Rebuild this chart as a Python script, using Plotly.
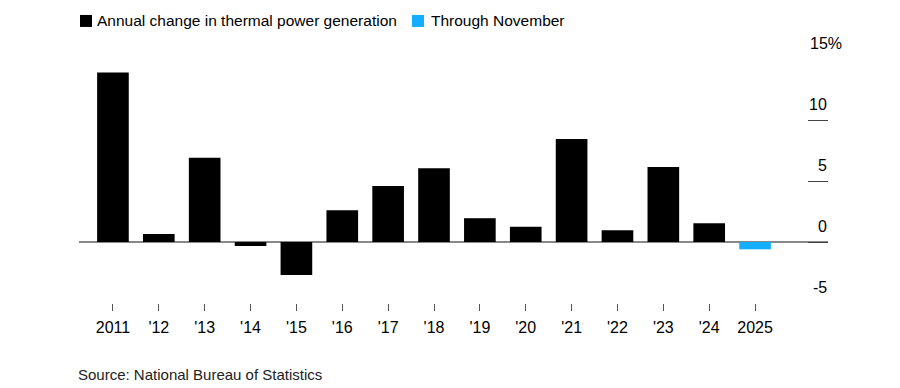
import plotly.graph_objects as go

years = ["2011", "'12", "'13", "'14", "'15", "'16", "'17", "'18", "'19", "'20",
         "'21", "'22", "'23", "'24"]
annual_change = [13.9, 0.66, 6.9, -0.33, -2.7, 2.6, 4.6, 6.05, 1.95, 1.26,
                 8.45, 0.96, 6.15, 1.53]
partial_year = ["2025"]
partial_change = [-0.6]
all_labels = years + partial_year
y_ticks = [-5, 0, 5, 10, 15]
y_tick_labels = ["-5", "0", "5", "10", "15%"]

BLACK = "#000000"
BLUE = "#14adff"
FONT = "Liberation Sans, Arial, sans-serif"

# page body has an 8px offset; plot area in window px: x 79..828, y 59..302.7
PL, PR, PT, PB = 79.0, 828.0, 59.0, 302.7
PW, PH = PR - PL, PB - PT


def px(wx):
    return (wx - PL) / PW


def py(wy):
    return (PB - wy) / PH


fig = go.Figure()
fig.add_trace(go.Bar(x=list(range(len(years))), y=annual_change,
                     marker=dict(color=BLACK, line=dict(width=0)),
                     name="Annual change in thermal power generation",
                     showlegend=False))
fig.add_trace(go.Bar(x=[len(years) + i for i in range(len(partial_year))], y=partial_change,
                     marker=dict(color=BLUE, line=dict(width=0)),
                     name="Through November", showlegend=False))

W, H = 892, 380
fig.update_layout(
    width=W, height=H,
    margin=dict(l=PL - 8, r=W - (PR - 8), t=PT - 8, b=H - (PB - 8), pad=0,
                autoexpand=False),
    paper_bgcolor="white", plot_bgcolor="white",
    bargap=0.31,
    font=dict(family=FONT, size=16, color="#000"),
    xaxis=dict(range=[-0.74, 15.59], tickmode="array",
               tickvals=list(range(len(all_labels))), ticktext=all_labels,
               showgrid=False, zeroline=False, showline=False,
               ticks="outside", ticklen=7, tickwidth=1, tickcolor="#555",
               ticklabelstandoff=3, automargin=False,
               tickfont=dict(family=FONT, size=16, color="#000"),
               fixedrange=True),
    yaxis=dict(range=[-5, 15], side="right", tickmode="array", tickvals=y_ticks,
               showticklabels=False, ticks="inside", ticklen=20, tickwidth=1,
               tickcolor="#444", showgrid=False, showline=False, automargin=False,
               zeroline=True, zerolinecolor="#888", zerolinewidth=1.5,
               fixedrange=True),
)

for v, lab in zip(y_ticks, y_tick_labels):
    xr = 842.7 if lab.endswith("%") else 827.5
    fig.add_annotation(x=px(xr), xref="paper", y=v, yref="y", text=lab,
                       showarrow=False, xanchor="right", yanchor="middle",
                       yshift=16, borderpad=0,
                       font=dict(family=FONT, size=16, color="#000"))

# custom legend
legend_items = [("Annual change in thermal power generation", BLACK, 80, 96),
                ("Through November", BLUE, 412, 430)]
for text, color, x0, tx in legend_items:
    fig.add_shape(type="rect", xref="paper", yref="paper",
                  x0=px(x0), x1=px(x0 + 12),
                  y0=py(27), y1=py(15),
                  fillcolor=color, line=dict(width=0))
    fig.add_annotation(x=px(tx), xref="paper", y=py(20.5), yref="paper", text=text,
                       showarrow=False, xanchor="left", yanchor="middle", borderpad=0,
                       font=dict(family=FONT, size=15.5, color="#000"))

fig.add_annotation(x=px(77), xref="paper", y=py(374), yref="paper",
                   text="Source: National Bureau of Statistics",
                   showarrow=False, xanchor="left", yanchor="middle", borderpad=0,
                   font=dict(family=FONT, size=15, color="#222"))

fig.write_html("out.html")
